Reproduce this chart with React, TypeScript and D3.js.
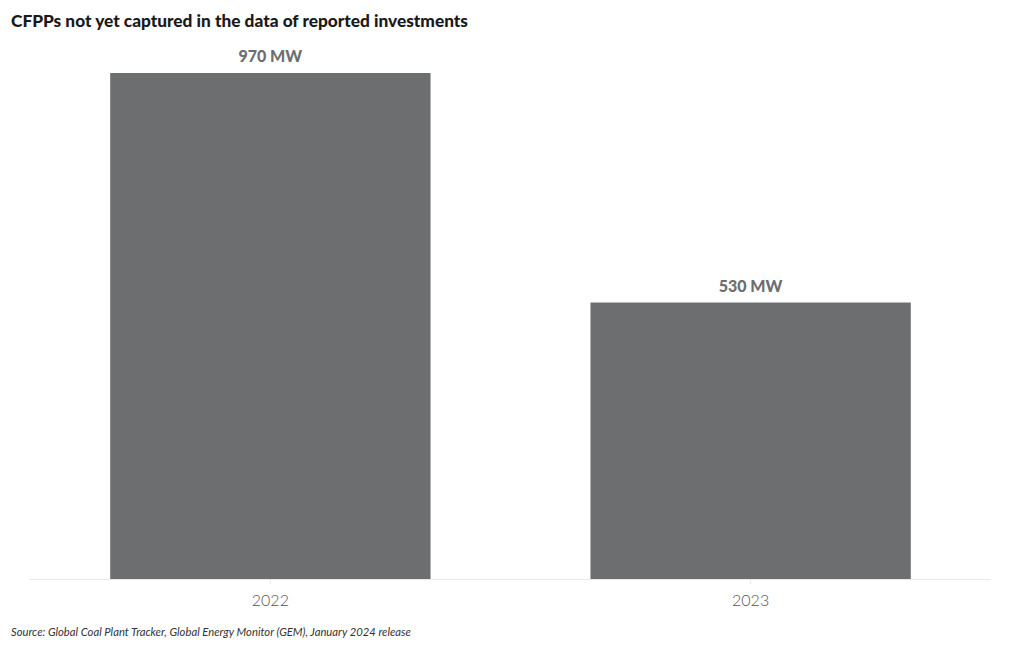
import React from "react";
import * as d3 from "d3";

const categories = ["2022", "2023"];
const values = [970, 530];
const valueLabels = ["970 MW", "530 MW"];
const title = "CFPPs not yet captured in the data of reported investments";
const source = "Source: Global Coal Plant Tracker, Global Energy Monitor (GEM), January 2024 release";

const W = 1020;
const H = 650;
const left = 30;
const right = 991;
const baseY = 579;
const topY = 73;

export default function App() {
  const x = d3.scaleBand<string>().domain(categories).range([left, right]).paddingInner(0.333).paddingOuter(0.167);
  const y = d3.scaleLinear().domain([0, d3.max(values) as number]).range([baseY, topY]);
  return (
    <svg width={W} height={H} style={{ position: "absolute", left: 0, top: 0 }}>
      <rect width={W} height={H} fill="#fff" />
      <text x={11} y={27} fontFamily="Lato" fontWeight={900} fontSize={16.5} fill="#1a1a1a" textLength={457} lengthAdjust="spacingAndGlyphs">
        {title}
      </text>
      <line x1={left} x2={right} y1={baseY + 0.5} y2={baseY + 0.5} stroke="#e8e8e8" strokeWidth={1} />
      {categories.map((c, i) => {
        const bx = x(c) as number;
        const bw = x.bandwidth();
        const cx = bx + bw / 2;
        return (
          <g key={c}>
            <line x1={cx} x2={cx} y1={baseY} y2={baseY + 5} stroke="#e8e8e8" />
            <rect x={bx} y={y(values[i])} width={bw} height={baseY - y(values[i])} fill="#6d6e70" />
            <text x={cx} y={y(values[i]) - 11} textAnchor="middle" fontFamily="Lato" fontWeight={900} fontSize={16} fill="#6d6e70">
              {valueLabels[i]}
            </text>
            <text x={cx} y={606} textAnchor="middle" fontFamily="Lato" fontWeight={300} fontSize={16} fill="#555">
              {c}
            </text>
          </g>
        );
      })}
      <text x={11} y={636} fontFamily="Lato" fontStyle="italic" fontSize={11} fill="#333" textLength={400} lengthAdjust="spacingAndGlyphs">
        {source}
      </text>
    </svg>
  );
}
